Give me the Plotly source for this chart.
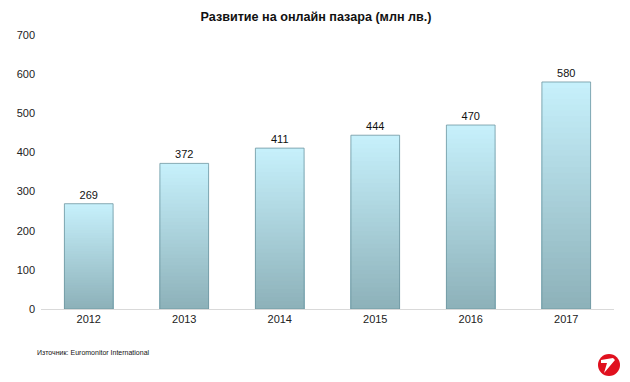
import plotly.graph_objects as go

years = ["2012", "2013", "2014", "2015", "2016", "2017"]
values = [269, 372, 411, 444, 470, 580]
y_ticks = [0, 100, 200, 300, 400, 500, 600, 700]

title_text = "Развитие на онлайн пазара (млн лв.)"
source_text = "Източник: Euromonitor International"

TOP = (198, 240, 251)
BOT = (140, 176, 184)
N = 40

OFF = 8  # page body margin
W, H = 630 - OFF, 382 - OFF
L, R, T, B = 41 - OFF, 16, 35 - OFF, 73
PW, PH = W - L - R, H - T - B


def px(x):
    return (x - OFF - L) / PW


def py(y):
    return (H - B - (y - OFF)) / PH


fig = go.Figure()
for k in range(N, 0, -1):
    f = k / N
    c = tuple(round(BOT[i] + (TOP[i] - BOT[i]) * f) for i in range(3))
    fig.add_trace(go.Bar(
        x=years, y=[v * f for v in values],
        marker=dict(color="rgb(%d,%d,%d)" % c, line=dict(width=0)),
        width=0.51, hoverinfo="skip", showlegend=False,
    ))

fig.add_trace(go.Bar(
    x=years, y=values,
    marker=dict(color="rgba(0,0,0,0)", line=dict(width=1, color="rgba(110,150,160,0.8)")),
    width=0.51, text=[str(v) for v in values], textposition="outside",
    textfont=dict(size=11, color="#111", family="Liberation Sans, Arial"),
    cliponaxis=False, showlegend=False,
))

shapes = [
    dict(type="circle", xref="paper", yref="paper",
         x0=px(598), x1=px(620), y0=py(354), y1=py(376),
         fillcolor="#e0101e", line=dict(width=0)),
    dict(type="path", xref="paper", yref="paper",
         path="M %f,%f L %f,%f L %f,%f L %f,%f L %f,%f L %f,%f Z" % (
             px(601), py(360), px(613), py(358), px(615), py(360),
             px(604), py(373), px(607), py(363), px(601), py(363)),
         fillcolor="white", line=dict(width=0)),
]

fig.update_layout(
    width=W, height=H,
    margin=dict(l=L, r=R, t=T, b=B, autoexpand=False),
    paper_bgcolor="white", plot_bgcolor="white",
    barmode="overlay", bargap=0.49,
    font=dict(family="Liberation Sans, Arial", size=11, color="#222"),
    title=dict(text="<b>" + title_text + "</b>", x=(316 - OFF) / W, xanchor="center",
               y=1 - (17 - OFF) / H, yanchor="middle",
               font=dict(size=12.6, color="#111", family="Liberation Sans, Arial")),
    xaxis=dict(type="category", showline=True, linecolor="#d9d9d9", linewidth=1,
               showgrid=False, ticks="", automargin=False,
               tickfont=dict(size=11, color="#222")),
    yaxis=dict(range=[0, 700], tickvals=y_ticks, showgrid=False, zeroline=False,
               showline=False, ticks="", ticklabelstandoff=5, automargin=False,
               tickfont=dict(size=11, color="#222")),
    shapes=shapes,
    annotations=[dict(text=source_text, xref="paper", yref="paper",
                      x=px(35), y=py(352), xanchor="left", yanchor="middle",
                      showarrow=False,
                      font=dict(size=7, color="#111", family="Liberation Sans, Arial"))],
)

fig.write_html("out.html")
